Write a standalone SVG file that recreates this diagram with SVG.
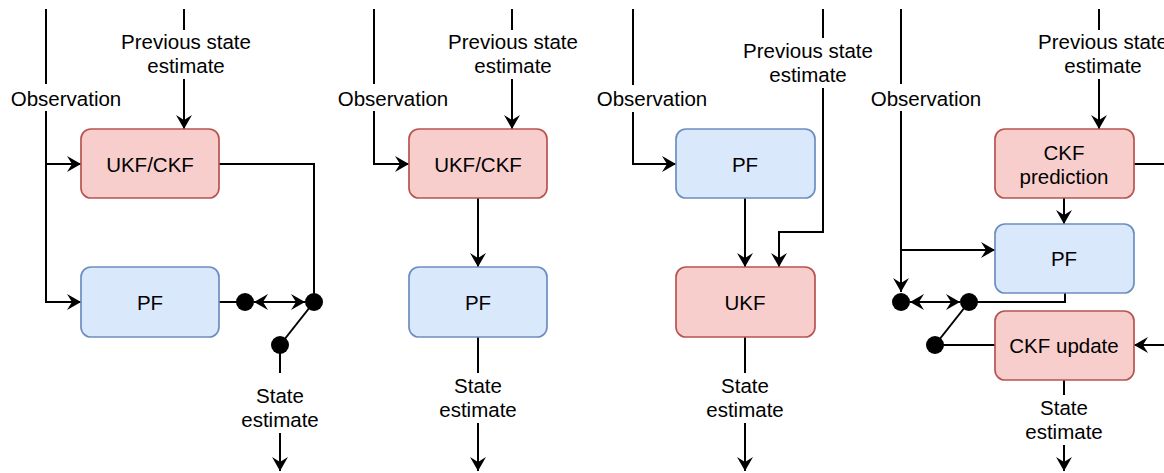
<svg xmlns="http://www.w3.org/2000/svg" width="1164" height="473" viewBox="0 0 1164 473">
<style>
.red{fill:#f8cecc;stroke:#b85450;stroke-width:1.7}
.blue{fill:#dae8fc;stroke:#6c8ebf;stroke-width:1.7}
.t{font-family:"Liberation Sans",Arial,sans-serif;font-size:20.5px;fill:#000;text-anchor:middle}
.e{fill:none;stroke:#000;stroke-width:2}
.a{marker-end:url(#arr)}
.d{marker-start:url(#arr);marker-end:url(#arr)}
.dot{fill:#000}
</style>
<defs>
<marker id="arr" markerUnits="userSpaceOnUse" markerWidth="16" markerHeight="16" viewBox="0 0 14 16" refX="14" refY="8" orient="auto-start-reverse">
<path d="M14,8 L0,0 L5,8 L0,16 Z" fill="#000"/>
</marker>
</defs>
<rect width="1164" height="473" fill="#fff"/>
<g id="connectors">
<!-- panel 1 -->
<path class="e" d="M46,9 V84"/>
<path class="e a" d="M46,111 V302 H81"/>
<path class="e a" d="M46,164 H81"/>
<path class="e" d="M184,9 V30"/>
<path class="e a" d="M184,79 V129"/>
<path class="e" d="M219,164 H314 V302"/>
<path class="e" d="M219,302 H245"/>
<path class="e d" d="M254,302 H305"/>
<path class="e" d="M314,302 L280,345"/>
<path class="e" d="M280,345 V373"/>
<path class="e a" d="M280,433 V471"/>
<!-- panel 2 -->
<path class="e" d="M374,9 V84"/>
<path class="e a" d="M374,111 V164 H409"/>
<path class="e" d="M512,9 V30"/>
<path class="e a" d="M512,79 V129"/>
<path class="e a" d="M478,198 V267"/>
<path class="e" d="M478,337 V373"/>
<path class="e a" d="M478,423 V471"/>
<!-- panel 3 -->
<path class="e" d="M633,9 V85"/>
<path class="e a" d="M633,112 V164 H676"/>
<path class="e" d="M823,9 V38"/>
<path class="e a" d="M823,88 V232 H779 V267"/>
<path class="e a" d="M745,198 V267"/>
<path class="e" d="M745,337 V373"/>
<path class="e a" d="M745,423 V471"/>
<!-- panel 4 -->
<path class="e" d="M901,9 V84"/>
<path class="e a" d="M901,111 V292"/>
<path class="e a" d="M901,250 H995"/>
<path class="e" d="M1099,9 V30"/>
<path class="e a" d="M1099,79 V129"/>
<path class="e a" d="M1064,198 V224"/>
<path class="e" d="M1134,164 H1164"/>
<path class="e" d="M1065,293 V302 H969"/>
<path class="e d" d="M910,302 H960"/>
<path class="e" d="M969,302 L935,345"/>
<path class="e" d="M935,345 H995"/>
<path class="e a" d="M1164,345 H1134"/>
<path class="e" d="M1064,380 V395"/>
<path class="e a" d="M1064,445 V471"/>
</g>
<g id="dots">
<circle class="dot" cx="245" cy="302" r="9"/>
<circle class="dot" cx="314" cy="302" r="9"/>
<circle class="dot" cx="280" cy="345" r="9"/>
<circle class="dot" cx="901" cy="302" r="9"/>
<circle class="dot" cx="969" cy="302" r="9"/>
<circle class="dot" cx="935" cy="345" r="9"/>
</g>
<g id="labels">
<text class="t" x="66" y="106">Observation</text>
<text class="t" x="186" y="49">Previous state</text>
<text class="t" x="186" y="73">estimate</text>
<text class="t" x="280" y="403">State</text>
<text class="t" x="280" y="427">estimate</text>
<text class="t" x="393" y="106">Observation</text>
<text class="t" x="513" y="49">Previous state</text>
<text class="t" x="513" y="73">estimate</text>
<text class="t" x="478" y="393">State</text>
<text class="t" x="478" y="417">estimate</text>
<text class="t" x="652" y="106">Observation</text>
<text class="t" x="808" y="58">Previous state</text>
<text class="t" x="808" y="82">estimate</text>
<text class="t" x="745" y="393">State</text>
<text class="t" x="745" y="417">estimate</text>
<text class="t" x="926" y="106">Observation</text>
<text class="t" x="1103" y="49">Previous state</text>
<text class="t" x="1103" y="73">estimate</text>
<text class="t" x="1064" y="415">State</text>
<text class="t" x="1064" y="439">estimate</text>
</g>
<g id="p1-ukfckf"><rect class="red" x="81" y="129" width="138" height="69" rx="10"/><text class="t" x="150" y="172">UKF/CKF</text></g>
<g id="p1-pf"><rect class="blue" x="81" y="267" width="138" height="70" rx="10"/><text class="t" x="150" y="310">PF</text></g>
<g id="p2-ukfckf"><rect class="red" x="409" y="129" width="138" height="69" rx="10"/><text class="t" x="478" y="172">UKF/CKF</text></g>
<g id="p2-pf"><rect class="blue" x="409" y="267" width="138" height="70" rx="10"/><text class="t" x="478" y="310">PF</text></g>
<g id="p3-pf"><rect class="blue" x="676" y="129" width="139" height="69" rx="10"/><text class="t" x="745" y="172">PF</text></g>
<g id="p3-ukf"><rect class="red" x="676" y="267" width="139" height="70" rx="10"/><text class="t" x="745" y="310">UKF</text></g>
<g id="p4-ckfpred"><rect class="red" x="995" y="129" width="139" height="69" rx="10"/><text class="t" x="1064" y="160">CKF</text><text class="t" x="1064" y="184">prediction</text></g>
<g id="p4-pf"><rect class="blue" x="995" y="224" width="139" height="69" rx="10"/><text class="t" x="1064" y="266">PF</text></g>
<g id="p4-ckfupdate"><rect class="red" x="995" y="311" width="139" height="69" rx="10"/><text class="t" x="1064" y="353">CKF update</text></g>
</svg>
